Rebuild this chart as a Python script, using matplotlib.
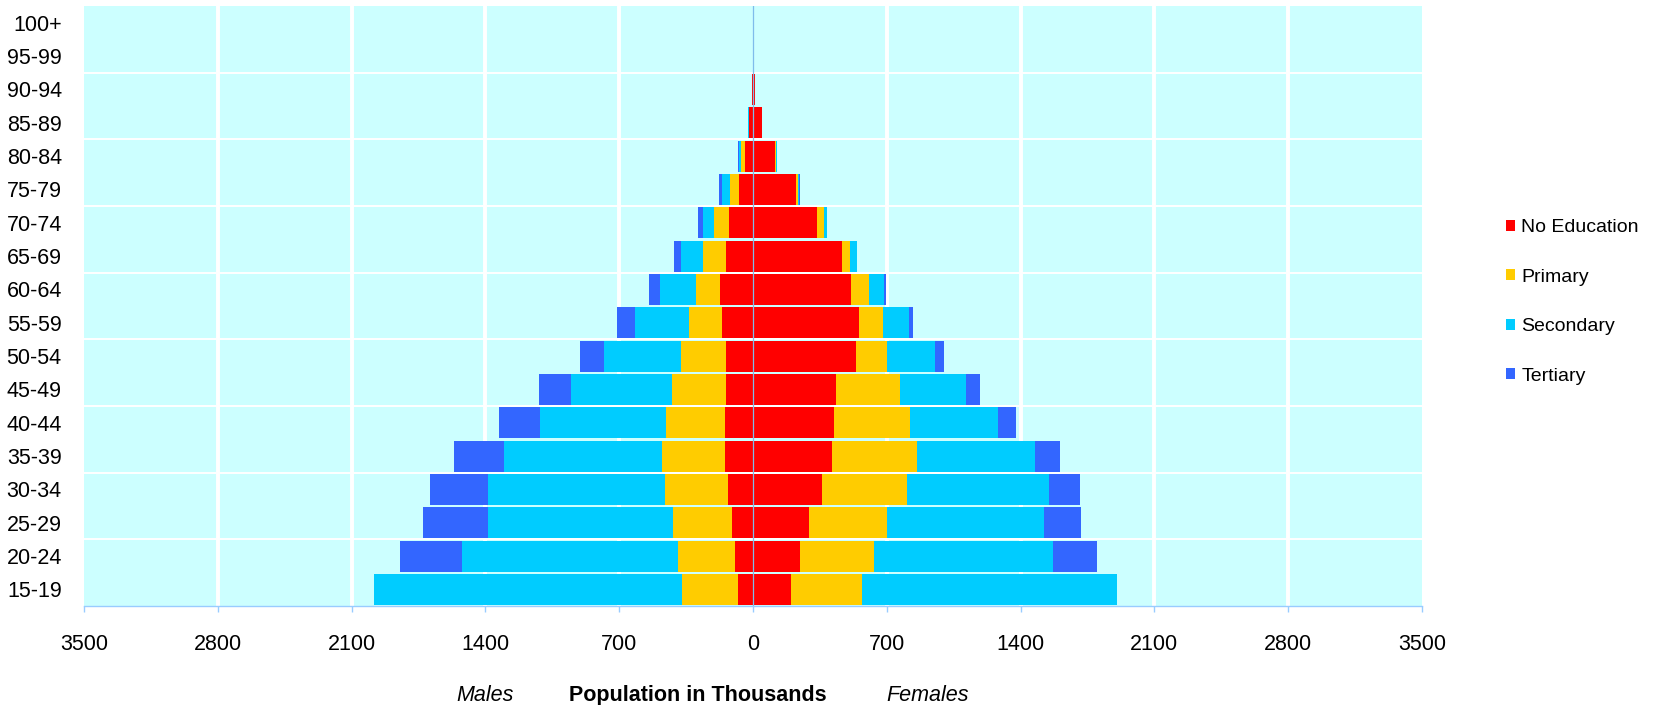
import numpy as np
import matplotlib

matplotlib.use("Agg")

import matplotlib.pyplot as plt
from matplotlib.patches import Patch

plt.rcParams["font.family"] = ["Liberation Sans", "DejaVu Sans"]

# age groups, bottom to top
AGE_GROUPS = ["15-19", "20-24", "25-29", "30-34", "35-39", "40-44", "45-49",
              "50-54", "55-59", "60-64", "65-69", "70-74", "75-79", "80-84",
              "85-89", "90-94", "95-99", "100+"]

LEVELS = ["No Education", "Primary", "Secondary", "Tertiary"]

# population in thousands
male_no_edu = [81, 94, 108, 131, 144, 147, 142, 139, 164, 172, 139, 125, 75, 42, 20, 4, 0, 0]
male_primary = [289, 297, 308, 331, 333, 308, 281, 236, 172, 125, 122, 78, 47, 19, 3, 0, 0, 0]
male_secondary = [1614, 1133, 972, 922, 825, 661, 531, 406, 281, 189, 117, 58, 42, 14, 2, 0, 0, 0]
male_tertiary = [0, 325, 336, 306, 264, 211, 164, 122, 94, 58, 36, 25, 14, 3, 1, 0, 0, 0]

female_no_edu = [201, 246, 294, 361, 412, 422, 435, 538, 552, 512, 464, 334, 225, 116, 46, 12, 1, 0]
female_primary = [368, 387, 406, 447, 447, 400, 336, 161, 130, 95, 46, 37, 9, 3, 1, 0, 0, 0]
female_secondary = [1333, 936, 821, 738, 614, 460, 345, 252, 134, 79, 32, 16, 9, 4, 1, 0, 0, 0]
female_tertiary = [0, 233, 195, 166, 134, 96, 70, 48, 21, 9, 2, 2, 1, 0, 0, 0, 0, 0]

X_TICKS = [-3500, -2800, -2100, -1400, -700, 0, 700, 1400, 2100, 2800, 3500]
X_TICK_LABELS = ["3500", "2800", "2100", "1400", "700", "0",
                 "700", "1400", "2100", "2800", "3500"]

COLORS = ["#FF0000", "#FFCC00", "#00CCFF", "#3366FF"]
BG = "#CCFFFF"
AXIS_BLUE = "#99CCFF"
FS = 15.5

males = [male_no_edu, male_primary, male_secondary, male_tertiary]
females = [female_no_edu, female_primary, female_secondary, female_tertiary]

fig = plt.figure(figsize=(16.53, 7.05), dpi=100)
ax = fig.add_axes([84 / 1653, 99 / 705, (1422 - 84) / 1653, 600 / 705])
ax.set_facecolor(BG)

y = np.arange(len(AGE_GROUPS))
height = 0.93

m_off = np.zeros(len(AGE_GROUPS))
f_off = np.zeros(len(AGE_GROUPS))
for level, color, m, f in zip(LEVELS, COLORS, males, females):
    m = np.array(m, dtype=float)
    f = np.array(f, dtype=float)
    ax.barh(y, -m, left=-m_off, height=height, color=color, linewidth=0, zorder=2)
    ax.barh(y, f, left=f_off, height=height, color=color, linewidth=0, zorder=2)
    m_off += m
    f_off += f

# gridlines (white), behind the bars
for xv in X_TICKS:
    if xv not in (0, -3500, 3500):
        ax.axvline(xv, color="white", lw=2.8, zorder=1)
for yv in np.arange(1.5, len(AGE_GROUPS) - 1, 2):
    ax.axhline(yv, color="white", lw=1.4, zorder=1)

# vertical category axis through zero
ax.axvline(0, color="#7FBCEB", lw=0.9, zorder=3)

ax.set_xlim(-3500, 3500)
ax.set_ylim(-0.5, len(AGE_GROUPS) - 0.5)
ax.set_yticks(y)
ax.set_yticklabels(AGE_GROUPS, fontsize=FS)
ax.set_xticks(X_TICKS)
ax.set_xticklabels(X_TICK_LABELS, fontsize=FS)
ax.tick_params(axis="y", length=0, pad=16)
ax.tick_params(axis="x", length=4.5, width=1, color=AXIS_BLUE, direction="out", pad=16)

for side in ("top", "left", "right"):
    ax.spines[side].set_visible(False)
ax.spines["bottom"].set_color(AXIS_BLUE)
ax.spines["bottom"].set_linewidth(1)
ax.spines["bottom"].set_zorder(3)

handles = [Patch(facecolor=c, edgecolor="none", label=l) for c, l in zip(COLORS, LEVELS)]
fig.legend(
    handles=handles,
    loc="center left",
    bbox_to_anchor=(1506 / 1653, 1 - 302 / 705),
    frameon=False,
    fontsize=14,
    handlelength=0.48,
    handleheight=0.48,
    handletextpad=0.3,
    labelspacing=1.67,
    borderpad=0,
    borderaxespad=0,
)

base = 1 - 701 / 705
fig.text(485 / 1653, base, "Males", style="italic", fontsize=FS, ha="center", va="baseline")
fig.text(698 / 1653, base, "Population in Thousands", weight="bold", fontsize=FS,
         ha="center", va="baseline")
fig.text(928 / 1653, base, "Females", style="italic", fontsize=FS, ha="center", va="baseline")

fig.savefig("out.png", dpi=100, facecolor="white")
